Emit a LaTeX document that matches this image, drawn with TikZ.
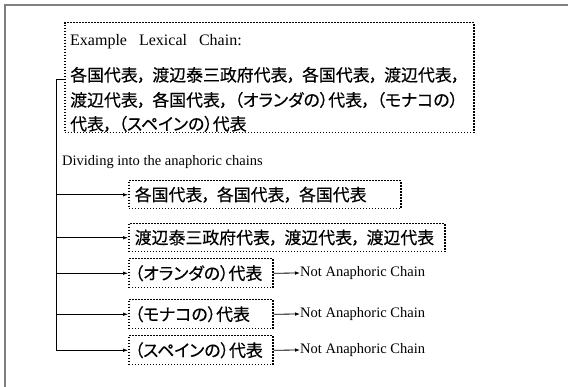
\documentclass[tikz,border=0pt]{standalone}
\usepackage{fontspec}
\setmainfont{Liberation Serif}
\newfontfamily\jp[RawFeature=+palt, FakeBold=0.4]{Noto Sans CJK JP}
\usetikzlibrary{arrows.meta}
\newcommand\jc{，\hspace{0.36em}}
\newcommand\boxtxt[2]{\makebox[#1][l]{#2}}
\begin{document}
\begin{tikzpicture}[x=1pt,y=-1pt,
  jfont/.style={font=\jp\fontsize{16.9}{20}\selectfont},
  dbox/.style={draw, line width=1.5pt, dash pattern=on 1.5pt off 1.5pt, inner ysep=0pt, inner xsep=6pt, anchor=north west, jfont},
  jtxt/.style={jfont, inner sep=0pt, anchor=west},
  etxt/.style={font=\fontsize{14.5}{17}\selectfont, inner sep=0pt, anchor=west},
  arr/.style={line width=0.8pt, -{Latex[length=5pt,width=3.6pt]}},
  frame/.style={draw=black!50, line width=1.5pt}]
\useasboundingbox (0,0) rectangle (568,387);
% outer frame (cropped)
\draw[frame] (5,387) -- (5,5) -- (568,5);
% top box
\node[dbox, minimum width=409pt, minimum height=110pt] (tb) at (64,22) {};
\node[etxt, font=\fontsize{16}{18}\selectfont] (ex) at (70,42) {Example\hspace{0.5em} Lexical\hspace{0.5em} Chain:};
\node[jtxt] (l1) at (70,75) {各国代表\jc 渡辺泰三政府代表\jc 各国代表\jc 渡辺代表，};
\node[jtxt] (l2) at (70,100) {渡辺代表\jc 各国代表\jc （オランダの）代表\jc （モナコの）};
\node[jtxt] (l3) at (70,124) {代表\jc （スペインの）代表};
% dividing label
\node[etxt] (dv) at (62,162) {Dividing into the anaphoric chains};
% chain boxes
\node[dbox, minimum height=28pt] (b1) at (128,180) {\boxtxt{260pt}{各国代表\jc 各国代表\jc 各国代表}};
\node[dbox, minimum height=28pt] (b2) at (128,223) {\boxtxt{304pt}{渡辺泰三政府代表\jc 渡辺代表\jc 渡辺代表}};
\node[dbox, minimum height=29pt] (b3) at (128,258) {\boxtxt{132pt}{（オランダの）代表}};
\node[dbox, minimum height=29pt] (b4) at (128,299) {\boxtxt{132pt}{（モナコの）代表}};
\node[dbox, minimum height=29pt] (b5) at (128,335) {\boxtxt{132pt}{（スペインの）代表}};
% not anaphoric labels
\node[etxt] (n3) at (300,273) {Not Anaphoric Chain};
\node[etxt] (n4) at (300,314) {Not Anaphoric Chain};
\node[etxt] (n5) at (300,350) {Not Anaphoric Chain};
% bracket
\coordinate (br) at (56,79);
\draw[line width=0.8pt] (br -| tb.west) -- (br) -- (br |- b5);
\draw[arr] (br |- b1) -- (b1);
\draw[arr] (br |- b2) -- (b2);
\draw[arr] (br |- b3) -- (b3);
\draw[arr] (br |- b4) -- (b4);
\draw[arr] (br |- b5) -- (b5);
\draw[arr] (b3.east) -- (n3.west);
\draw[arr] (b4.east) -- (n4.west);
\draw[arr] (b5.east) -- (n5.west);
\end{tikzpicture}
\end{document}
